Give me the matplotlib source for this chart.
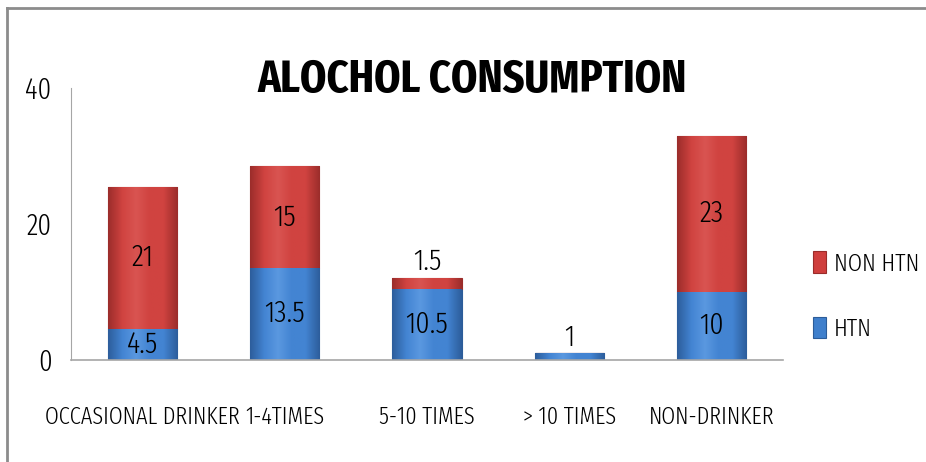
import numpy as np
import matplotlib
matplotlib.use('Agg')
import matplotlib.pyplot as plt
from matplotlib.colors import LinearSegmentedColormap
from matplotlib.lines import Line2D

plt.rcParams['font.family'] = ['Fira Sans Extra Condensed', 'Carlito', 'DejaVu Sans']
plt.rcParams['font.weight'] = 300

categories = ['OCCASIONAL DRINKER', '1-4TIMES', '5-10 TIMES', '> 10 TIMES', 'NON-DRINKER']
htn = [4.5, 13.5, 10.5, 1, 10]
non_htn = [21, 15, 1.5, 0, 23]
yticks = [0, 20, 40]

red = '#cf3f3d'
blue = '#3f7fcc'

fig = plt.figure(figsize=(9.26, 4.62), dpi=100)
fig.patch.set_facecolor('white')
ax = fig.add_axes([71 / 926, 1 - 360 / 462, 712 / 926, 272 / 462])

x = np.arange(len(categories))
b1 = ax.bar(x, htn, width=0.485, color=blue, edgecolor='#2c5c99', linewidth=0.8, label='HTN')
b2 = ax.bar(x, non_htn, width=0.485, bottom=htn, color=red, edgecolor='#9a2c2a', linewidth=0.8,
            label='NON HTN')

# bevel-like shading on each bar segment
def shade(bars, dark, mid, light):
    cmap = LinearSegmentedColormap.from_list('s', [dark, mid, light, mid, mid, dark])
    grad = np.linspace(0, 1, 64).reshape(1, -1)
    for p in bars:
        if p.get_height() <= 0:
            continue
        bx, by = p.get_x(), p.get_y()
        im = ax.imshow(grad, cmap=cmap, aspect='auto', zorder=p.get_zorder() + 0.1,
                       extent=(bx, bx + p.get_width(), by, by + p.get_height()))
        im.set_clip_path(p)

shade(b1, '#2d5e9c', '#4384d2', '#5a98e0')
shade(b2, '#9c2d2b', '#d04340', '#d95451')

lab_size = 22
for i in range(len(categories)):
    if htn[i] >= 3:
        ax.text(x[i], htn[i] / 2, f'{htn[i]:g}', ha='center', va='center', fontsize=lab_size, zorder=5)
    elif non_htn[i] == 0:
        ax.annotate(f'{htn[i]:g}', (x[i], htn[i]), xytext=(0, 1), textcoords='offset points',
                    ha='center', va='bottom', fontsize=lab_size, zorder=5)
    if non_htn[i] >= 3:
        ax.text(x[i], htn[i] + non_htn[i] / 2, f'{non_htn[i]:g}', ha='center', va='center',
                fontsize=lab_size, zorder=5)
    elif non_htn[i] > 0:
        ax.annotate(f'{non_htn[i]:g}', (x[i], htn[i] + non_htn[i]), xytext=(0, 2),
                    textcoords='offset points', ha='center', va='bottom', fontsize=lab_size, zorder=5)

ax.set_xlim(-0.5, len(categories) - 0.5)
ax.set_ylim(0, 40)
ax.set_yticks(yticks)
ax.set_xticks(x)
ax.set_xticklabels(categories, fontsize=17.5)
ax.tick_params(axis='y', length=0, pad=14, labelsize=21)
ax.tick_params(axis='x', length=0, pad=33)
for s in ['top', 'right']:
    ax.spines[s].set_visible(False)
ax.spines['left'].set_color('#a6a6a6')
ax.spines['bottom'].set_color('#a6a6a6')
ax.spines['bottom'].set_linewidth(1.2)

fig.text(0.510, 1 - 80 / 462, 'ALOCHOL CONSUMPTION', ha='center', va='center',
         fontsize=33, fontweight='bold')

fig.legend([b2, b1], ['NON HTN', 'HTN'], loc='center left',
           bbox_to_anchor=(813 / 926, 1 - 296 / 462), frameon=False, fontsize=18,
           handlelength=0.52, handleheight=0.92, handletextpad=0.3, labelspacing=1.65,
           borderpad=0, borderaxespad=0)

# chart frame
fig.add_artist(Line2D([7 / 926, 1], [1 - 8 / 462, 1 - 8 / 462], color='#8c8c8c', lw=2))
fig.add_artist(Line2D([7 / 926, 7 / 926], [0, 1 - 8 / 462], color='#8c8c8c', lw=2))

fig.savefig('out.png', dpi=100)
